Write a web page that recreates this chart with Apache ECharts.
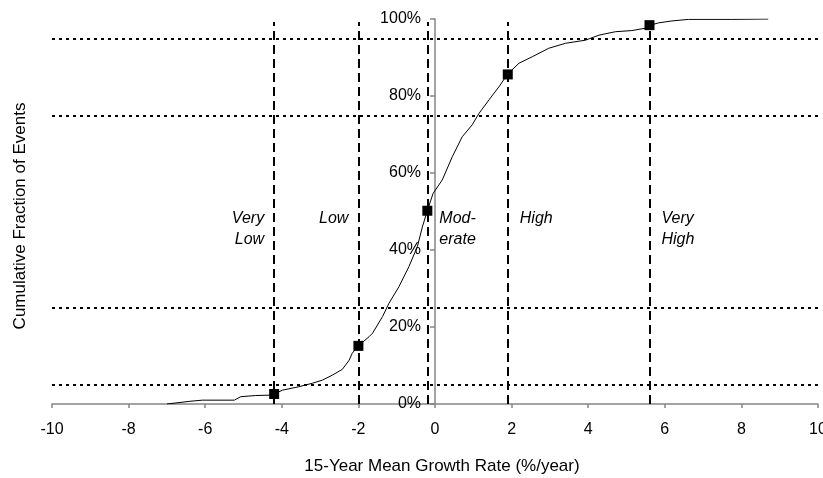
<!DOCTYPE html>
<html>
<head>
<meta charset="utf-8">
<title>Cumulative fraction of events</title>
<script src="https://cdn.jsdelivr.net/npm/echarts@6/dist/echarts.min.js"></script>
<style>
  html, body { margin: 0; padding: 0; background: #fff; }
  #chart { width: 823px; height: 478px; }
</style>
</head>
<body>
<div id="chart"></div>
<script>
const curveX = [-7.0, -6.4, -6.07, -5.24, -5.07, -4.68, -4.33, -4.2, -3.98, -3.55, -3.2, -2.94,
  -2.68, -2.42, -2.24, -2.16, -2.0, -1.72, -1.63, -1.37, -1.2, -0.94, -0.68, -0.46, -0.33,
  -0.2, -0.05, 0.19, 0.45, 0.71, 0.97, 1.15, 1.41, 1.67, 1.89, 2.19, 2.54, 2.97, 3.41, 3.93,
  4.28, 4.71, 5.14, 5.49, 5.62, 5.84, 6.19, 6.62, 7.75, 8.7];
const curveY = [0.0, 0.007, 0.010, 0.010, 0.019, 0.022, 0.023, 0.026, 0.036, 0.045, 0.054, 0.062,
  0.075, 0.090, 0.114, 0.132, 0.151, 0.175, 0.184, 0.227, 0.262, 0.305, 0.357, 0.409, 0.46,
  0.502, 0.547, 0.582, 0.642, 0.694, 0.725, 0.755, 0.79, 0.824, 0.856, 0.885, 0.902, 0.924,
  0.937, 0.945, 0.958, 0.967, 0.970, 0.976, 0.984, 0.990, 0.995, 0.999, 0.999, 1.0];

// class boundaries (growth rate) and the curve value marked there
const boundaryX = [-4.2, -2.0, -0.2, 1.9, 5.6];
const boundaryY = [0.026, 0.151, 0.502, 0.856, 0.984];

// percentile levels shown as dotted lines
const levels = [0.05, 0.25, 0.75, 0.95];

const classNames = ['Very\nLow', 'Low', 'Mod-\nerate', 'High', 'Very\nHigh'];

const xTicks = { min: -10, max: 10, interval: 2 };
const yTicks = { min: 0, max: 1, interval: 0.2 };

const font = '"Liberation Sans", Arial, sans-serif';
const axisGrey = '#858585';

const gridBox = { left: 52, right: 5, top: 19, bottom: 74, outerBoundsMode: 'none' };
const gridWidth = 823 - gridBox.left - gridBox.right;
// the y axis sits at x = 0, so pull it in from the grid's left edge
const yAxisShift = gridWidth * (0 - xTicks.min) / (xTicks.max - xTicks.min);

const chart = echarts.init(document.getElementById('chart'));

const option = {
  animation: false,
  grid: gridBox,
  xAxis: {
    type: 'value',
    min: xTicks.min,
    max: xTicks.max,
    interval: xTicks.interval,
    name: '15-Year Mean Growth Rate (%/year)',
    nameLocation: 'middle',
    nameGap: 54,
    nameTextStyle: { fontFamily: font, fontSize: 17, color: '#000', padding: [0, 0, 0, 14] },
    splitLine: { show: false },
    axisLine: { onZero: false, lineStyle: { color: axisGrey, width: 1.5 } },
    axisTick: { length: 4, lineStyle: { color: axisGrey, width: 1.5 } },
    axisLabel: { fontFamily: font, fontSize: 16, color: '#000', margin: 18 }
  },
  yAxis: {
    type: 'value',
    min: yTicks.min,
    max: yTicks.max,
    interval: yTicks.interval,
    offset: -yAxisShift,
    splitLine: { show: false },
    axisLine: { show: true, onZero: false, lineStyle: { color: axisGrey, width: 1.5 } },
    axisTick: { show: true, length: 5, lineStyle: { color: axisGrey, width: 1.5 } },
    axisLabel: {
      fontFamily: font, fontSize: 16, color: '#000', margin: 14,
      formatter: v => Math.round(v * 100) + '%'
    }
  },
  graphic: [{
    type: 'text',
    x: 20,
    y: 216,
    rotation: Math.PI / 2,
    style: {
      text: 'Cumulative Fraction of Events',
      font: '17px ' + font,
      fill: '#000',
      align: 'center',
      verticalAlign: 'middle'
    }
  }],
  series: [
    {
      // dotted percentile lines and dashed class boundaries
      type: 'line',
      data: [],
      silent: true,
      markLine: {
        silent: true,
        symbol: 'none',
        label: { show: false },
        data: levels.map(v => ({
          yAxis: v,
          lineStyle: { color: '#000', type: [3, 4], width: 2, opacity: 1 }
        })).concat(boundaryX.map(x => [
          { coord: [x, 0], lineStyle: { color: '#000', type: [9, 5], width: 2, opacity: 1 } },
          { coord: [x, 0.992] }
        ]))
      }
    },
    {
      type: 'line',
      data: curveX.map((x, i) => [x, curveY[i]]),
      showSymbol: false,
      lineStyle: { color: '#000', width: 1 },
      z: 3
    },
    {
      type: 'scatter',
      data: boundaryX.map((x, i) => [x, boundaryY[i]]),
      symbol: 'rect',
      symbolSize: 10,
      itemStyle: { color: '#000', opacity: 1 },
      z: 4
    },
    {
      // class names next to the boundaries
      type: 'scatter',
      symbolSize: 0,
      silent: true,
      itemStyle: { opacity: 1 },
      data: classNames.map((name, i) => ({
        value: [boundaryX[i], 0.51],
        label: {
          show: true,
          formatter: name,
          position: i < 2 ? [-10, 0] : [12, 0],
          align: i < 2 ? 'right' : 'left',
          verticalAlign: 'top',
          fontFamily: font,
          fontSize: 16,
          fontStyle: 'italic',
          lineHeight: 21,
          color: '#000',
          opacity: 1
        }
      })),
      z: 5
    }
  ]
};

chart.setOption(option);
</script>
</body>
</html>
